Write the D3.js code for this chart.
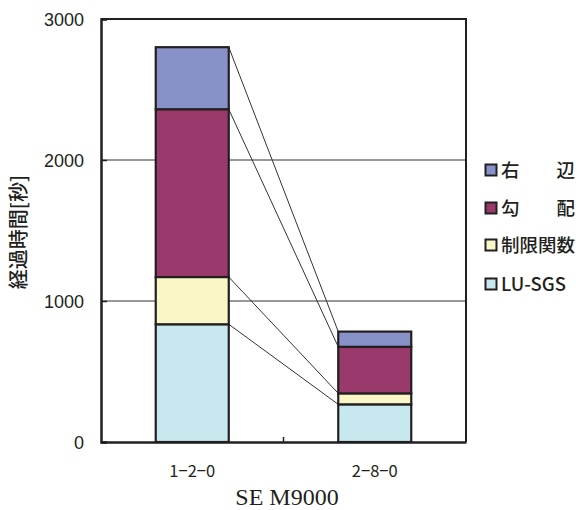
<!DOCTYPE html>
<html>
<head>
<meta charset="utf-8">
<script src="https://cdn.jsdelivr.net/npm/d3@7/dist/d3.min.js"></script>
<style>
  html, body { margin: 0; padding: 0; background: #fff; }
  svg { display: block; }
</style>
</head>
<body>
<svg id="chart" width="585" height="510"></svg>
<script>
// Categories and stacked series (elapsed seconds)
const categories = ["1\u22122\u22120", "2\u22128\u22120"];
const seriesNames = ["LU-SGS", "制限関数", "勾配", "右辺"];
const luSgs = [835, 267];
const limiter = [335, 78];
const gradient = [1190, 330];
const rhs = [440, 108];
const legendLabels = ["右\u3000\u3000辺", "勾\u3000\u3000配", "制限関数", "LU-SGS"];
const yTicks = [0, 1000, 2000, 3000];
const colors = ["#c8e8ef", "#faf7c6", "#9a3a6c", "#8892c8"];

const seriesValues = [luSgs, limiter, gradient, rhs];
const rows = categories.map((c, i) => {
  const r = { cat: c };
  seriesNames.forEach((s, k) => r[s] = seriesValues[k][i]);
  return r;
});

const svg = d3.select("#chart");
const m = { left: 101, right: 466, top: 19, bottom: 442 };
const ink = "#231f20";

const x = d3.scaleBand().domain(categories).range([m.left, m.right]).paddingInner(0.6).paddingOuter(0.3);
const y = d3.scaleLinear().domain([0, 3000]).range([m.bottom, m.top]);

const stacked = d3.stack().keys(seriesNames)(rows);

// gridlines
svg.append("g").selectAll("line").data([1000, 2000]).join("line")
  .attr("x1", m.left).attr("x2", m.right)
  .attr("y1", d => y(d)).attr("y2", d => y(d))
  .attr("stroke", "#333").attr("stroke-width", 1);

// connector lines between segment tops
const xa = x(categories[0]) + x.bandwidth();
const xb = x(categories[1]);
svg.append("g").selectAll("line").data(stacked).join("line")
  .attr("x1", xa).attr("x2", xb)
  .attr("y1", s => y(s[0][1])).attr("y2", s => y(s[1][1]))
  .attr("stroke", "#333").attr("stroke-width", 1);

// bars
svg.append("g").selectAll("g").data(stacked).join("g")
  .attr("fill", (s, i) => colors[i])
  .selectAll("rect").data(s => s).join("rect")
  .attr("x", d => x(d.data.cat))
  .attr("width", x.bandwidth())
  .attr("y", d => y(d[1]))
  .attr("height", d => y(d[0]) - y(d[1]))
  .attr("stroke", ink).attr("stroke-width", 2.2);

// frame: top and right
svg.append("path")
  .attr("d", `M${m.left},${m.top}H${m.right}V${m.bottom}`)
  .attr("fill", "none").attr("stroke", ink).attr("stroke-width", 2);

// y axis
const yAxis = svg.append("g").attr("transform", `translate(${m.left},0)`)
  .call(d3.axisRight(y).tickValues(yTicks).tickSize(6).tickFormat(""));
yAxis.select(".domain").attr("stroke", ink).attr("stroke-width", 2.5);
yAxis.selectAll(".tick line").attr("stroke", ink).attr("stroke-width", 1.5);
svg.append("g").selectAll("text").data(yTicks).join("text")
  .attr("x", 84).attr("y", d => y(d) + 6.5)
  .attr("text-anchor", "end")
  .attr("font-family", "Liberation Sans, Arial, sans-serif")
  .attr("font-size", 18).attr("fill", ink)
  .text(d => d);

// x axis with a single divider tick between categories
const xAxis = svg.append("g").attr("transform", `translate(0,${m.bottom})`)
  .call(d3.axisBottom(x).tickSize(0).tickFormat(""));
xAxis.select(".domain").attr("stroke", ink).attr("stroke-width", 2.5);
xAxis.selectAll(".tick").remove();
const mid = (x(categories[0]) + x.bandwidth() / 2 + x(categories[1]) + x.bandwidth() / 2) / 2;
svg.append("line").attr("x1", mid).attr("x2", mid)
  .attr("y1", m.bottom).attr("y2", m.bottom - 5)
  .attr("stroke", ink).attr("stroke-width", 1.5);

svg.append("g").selectAll("text").data(categories).join("text")
  .attr("x", d => x(d) + x.bandwidth() / 2).attr("y", 477)
  .attr("text-anchor", "middle")
  .attr("font-family", "Noto Sans CJK JP, sans-serif")
  .attr("font-size", 16.5).attr("fill", ink)
  .text(d => d);

// axis titles
svg.append("text")
  .attr("x", 287).attr("y", 505)
  .attr("text-anchor", "middle")
  .attr("font-family", "Liberation Serif, Times New Roman, serif")
  .attr("font-size", 24).attr("fill", ink)
  .text("SE M9000");

svg.append("text")
  .attr("transform", "translate(26,232) rotate(-90)")
  .attr("text-anchor", "middle")
  .attr("font-family", "Noto Sans CJK JP, sans-serif")
  .attr("font-size", 20).attr("font-weight", 500).attr("fill", ink)
  .text("経過時間[秒]");

// legend (top series first)
const legendY = [170, 208, 245, 284];
const legendColors = colors.slice().reverse();
const lg = svg.append("g");
legendLabels.forEach((t, i) => {
  lg.append("rect").attr("x", 485.5).attr("y", legendY[i] - 5.5)
    .attr("width", 11).attr("height", 11)
    .attr("fill", legendColors[i]).attr("stroke", ink).attr("stroke-width", 2);
  lg.append("text").attr("x", 501).attr("y", legendY[i] + 6.5)
    .attr("font-family", "Noto Sans CJK JP, sans-serif")
    .attr("font-size", 18.5).attr("font-weight", 500).attr("fill", ink)
    .text(t);
});
</script>
</body>
</html>
